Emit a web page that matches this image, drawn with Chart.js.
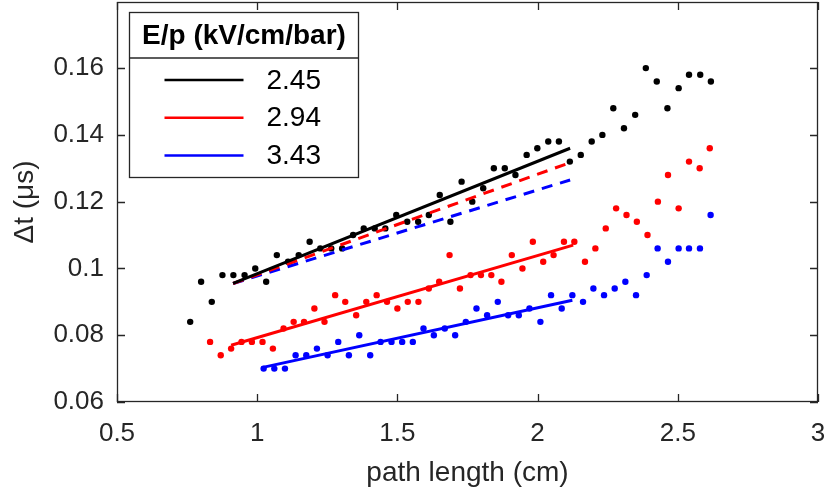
<!DOCTYPE html>
<html>
<head>
<meta charset="utf-8">
<title>Drift time vs path length</title>
<script src="https://cdn.jsdelivr.net/npm/chart.js@4.4.1/dist/chart.umd.min.js"></script>
<style>
    html, body { margin: 0; padding: 0; background: #ffffff; }
    #wrap { width: 827px; height: 495px; }
</style>
</head>
<body>
<div id="wrap"><canvas id="graficoDeriva" width="827" height="495"></canvas></div>
<script>

// E/p = 2.45 kV/cm/bar
const xNegro = [0.761, 0.800, 0.838, 0.876, 0.915, 0.955, 0.993, 1.032, 1.070, 1.110,
    1.148, 1.187, 1.225, 1.264, 1.303, 1.342, 1.380, 1.419, 1.457, 1.496,
    1.535, 1.574, 1.612, 1.651, 1.689, 1.729, 1.767, 1.806, 1.844, 1.883,
    1.921, 1.961, 1.999, 2.038, 2.076, 2.115, 2.154, 2.193, 2.231, 2.270,
    2.308, 2.348, 2.386, 2.425, 2.463, 2.503, 2.540, 2.580, 2.618];
const tNegro = [0.084, 0.096, 0.090, 0.098, 0.098, 0.098, 0.100, 0.096, 0.104, 0.102,
    0.104, 0.108, 0.106, 0.106, 0.106, 0.110, 0.112, 0.112, 0.112, 0.116,
    0.114, 0.114, 0.116, 0.122, 0.114, 0.126, 0.120, 0.124, 0.130, 0.130,
    0.128, 0.134, 0.136, 0.138, 0.138, 0.132, 0.134, 0.138, 0.140, 0.148,
    0.142, 0.146, 0.160, 0.156, 0.148, 0.154, 0.158, 0.158, 0.156];

// E/p = 2.94 kV/cm/bar
const xRojo = [0.832, 0.870, 0.907, 0.944, 0.981, 1.019, 1.056, 1.094, 1.130, 1.167,
    1.204, 1.240, 1.278, 1.314, 1.353, 1.389, 1.426, 1.463, 1.500, 1.537,
    1.575, 1.612, 1.649, 1.686, 1.723, 1.761, 1.798, 1.835, 1.871, 1.908,
    1.946, 1.983, 2.020, 2.057, 2.094, 2.131, 2.169, 2.206, 2.243, 2.280,
    2.317, 2.354, 2.392, 2.429, 2.465, 2.503, 2.540, 2.578, 2.614];
const tRojo = [0.078, 0.074, 0.076, 0.078, 0.078, 0.078, 0.076, 0.082, 0.084, 0.084,
    0.088, 0.084, 0.092, 0.090, 0.086, 0.090, 0.092, 0.090, 0.088, 0.090,
    0.090, 0.094, 0.096, 0.104, 0.094, 0.098, 0.098, 0.098, 0.096, 0.104,
    0.100, 0.108, 0.102, 0.104, 0.108, 0.108, 0.102, 0.106, 0.112, 0.118,
    0.116, 0.114, 0.110, 0.120, 0.128, 0.118, 0.132, 0.130, 0.136];

// E/p = 3.43 kV/cm/bar
const xAzul = [1.023, 1.061, 1.099, 1.137, 1.175, 1.213, 1.251, 1.289, 1.327, 1.364,
    1.403, 1.440, 1.479, 1.517, 1.555, 1.593, 1.630, 1.669, 1.706, 1.744,
    1.782, 1.820, 1.858, 1.895, 1.933, 1.971, 2.010, 2.048, 2.086, 2.124,
    2.162, 2.199, 2.237, 2.275, 2.313, 2.351, 2.389, 2.428, 2.465, 2.503,
    2.540, 2.579, 2.617];
const tAzul = [0.070, 0.070, 0.070, 0.074, 0.074, 0.076, 0.074, 0.078, 0.074, 0.080,
    0.074, 0.078, 0.078, 0.078, 0.078, 0.082, 0.080, 0.082, 0.080, 0.084,
    0.088, 0.086, 0.090, 0.086, 0.086, 0.088, 0.084, 0.092, 0.088, 0.092,
    0.090, 0.094, 0.092, 0.094, 0.096, 0.092, 0.098, 0.106, 0.102, 0.106,
    0.106, 0.106, 0.116];

// rectas de ajuste: [x inicio, x fin] y [t inicio, t fin]
const ajusteNegroX = [0.914, 2.116];
const ajusteNegroT = [0.0955, 0.1360];
const ajusteRojoX = [0.907, 2.127];
const ajusteRojoT = [0.0770, 0.1070];
const ajusteAzulX = [1.016, 2.124];
const ajusteAzulT = [0.0703, 0.0905];
// lo que daria la recta negra escalada a los otros campos
const escaladoRojoX = [0.914, 2.116];
const escaladoRojoT = [0.0955, 0.1317];
const escaladoAzulX = [0.914, 2.116];
const escaladoAzulT = [0.0955, 0.1265];

const campos = ["2.45", "2.94", "3.43"];
const tituloLeyenda = "E/p (kV/cm/bar)";

const xTicks = [0.5, 1, 1.5, 2, 2.5, 3];
const yTicks = [0.06, 0.08, 0.1, 0.12, 0.14, 0.16];

const COLOR_EJE = "#262626";
const FUENTE = "'Liberation Sans', Arial, Helvetica, sans-serif";

function puntos(xs, ts){
    return xs.map(function(x, i){ return { x: x, y: ts[i] }; });
}

function nube(xs, ts, color){
    return {
        data: puntos(xs, ts),
        showLine: false,
        pointRadius: 3.2,
        pointHoverRadius: 3.2,
        pointBorderWidth: 0,
        backgroundColor: color,
        borderColor: color,
        order: 2
    };
}

function recta(xs, ts, color, guiones){
    return {
        data: puntos(xs, ts),
        showLine: true,
        pointRadius: 0,
        borderWidth: 3,
        borderColor: color,
        backgroundColor: color,
        borderDash: guiones ? [11, 8] : [],
        fill: false,
        order: 1
    };
}

// caja de ejes con marcas hacia dentro, estilo matlab
const marcoEjes = {
    id: "marcoEjes",
    afterDatasetsDraw: function(chart){
        const ctx = chart.ctx;
        const a = chart.chartArea;
        const sx = chart.scales.x;
        const sy = chart.scales.y;
        const largo = 8;
        ctx.save();
        ctx.strokeStyle = COLOR_EJE;
        ctx.lineWidth = 1.3;
        ctx.strokeRect(a.left + 0.5, a.top + 0.5, a.right - a.left - 1, a.bottom - a.top - 1);
        ctx.beginPath();
        xTicks.forEach(function(v){
            const px = Math.round(sx.getPixelForValue(v)) + 0.5;
            ctx.moveTo(px, a.bottom); ctx.lineTo(px, a.bottom - largo);
            ctx.moveTo(px, a.top); ctx.lineTo(px, a.top + largo);
        });
        yTicks.forEach(function(v){
            const py = Math.round(sy.getPixelForValue(v)) + 0.5;
            ctx.moveTo(a.left, py); ctx.lineTo(a.left + largo, py);
            ctx.moveTo(a.right, py); ctx.lineTo(a.right - largo, py);
        });
        ctx.stroke();
        ctx.restore();
    }
};

// leyenda con titulo y separador
const leyendaCaja = {
    id: "leyendaCaja",
    afterDraw: function(chart){
        const ctx = chart.ctx;
        const a = chart.chartArea;
        const x0 = a.left + 12.5, y0 = a.top + 10.5;
        const ancho = 229, alto = 165, sep = 45.5;
        const colores = ["#000000", "#ff0000", "#0000ff"];
        ctx.save();
        ctx.fillStyle = "#ffffff";
        ctx.fillRect(x0, y0, ancho, alto);
        ctx.strokeStyle = COLOR_EJE;
        ctx.lineWidth = 1.3;
        ctx.strokeRect(x0, y0, ancho, alto);
        ctx.beginPath();
        ctx.moveTo(x0, y0 + sep); ctx.lineTo(x0 + ancho, y0 + sep);
        ctx.stroke();

        ctx.fillStyle = "#000000";
        ctx.textAlign = "center";
        ctx.textBaseline = "middle";
        ctx.font = "bold 28px " + FUENTE;
        ctx.fillText(tituloLeyenda, x0 + ancho / 2, y0 + 24);

        ctx.font = "28px " + FUENTE;
        ctx.textAlign = "left";
        campos.forEach(function(c, i){
            const yy = y0 + 67.5 + i * 37.7;
            ctx.strokeStyle = colores[i];
            ctx.lineWidth = 2.5;
            ctx.beginPath();
            ctx.moveTo(x0 + 35, yy); ctx.lineTo(x0 + 114, yy);
            ctx.stroke();
            ctx.fillText(c, x0 + 137, yy + 1);
        });
        ctx.restore();
    }
};

function graficoDeriva(){
    const ctx = document.getElementById("graficoDeriva");

    const datasets = [
        nube(xNegro, tNegro, "#000000"),
        nube(xRojo, tRojo, "#ff0000"),
        nube(xAzul, tAzul, "#0000ff"),
        recta(ajusteNegroX, ajusteNegroT, "#000000", false),
        recta(ajusteRojoX, ajusteRojoT, "#ff0000", false),
        recta(ajusteAzulX, ajusteAzulT, "#0000ff", false),
        recta(escaladoRojoX, escaladoRojoT, "#ff0000", true),
        recta(escaladoAzulX, escaladoAzulT, "#0000ff", true)
    ];

    const options = {
        responsive: false,
        animation: false,
        events: [],
        layout: {
            autoPadding: false,
            padding: { left: 0, right: 9, top: 2, bottom: 0 }
        },
        plugins: {
            legend: { display: false },
            tooltip: { enabled: false }
        },
        scales: {
            x: {
                type: "linear",
                min: 0.5,
                max: 3,
                grid: { display: false, drawTicks: false },
                border: { display: false },
                afterBuildTicks: function(scale){
                    scale.ticks = xTicks.map(function(v){ return { value: v }; });
                },
                afterFit: function(scale){
                    scale.height = 93;
                    scale.paddingLeft = 0;
                    scale.paddingRight = 0;
                },
                ticks: {
                    padding: 16,
                    color: COLOR_EJE,
                    font: { family: FUENTE, size: 26 },
                    maxRotation: 0,
                    callback: function(v){ return String(v); }
                },
                title: {
                    display: true,
                    text: "path length (cm)",
                    color: COLOR_EJE,
                    font: { family: FUENTE, size: 28 },
                    padding: { top: 0, bottom: 5 }
                }
            },
            y: {
                type: "linear",
                min: 0.06,
                max: 0.1798,
                grid: { display: false, drawTicks: false },
                border: { display: false },
                afterBuildTicks: function(scale){
                    scale.ticks = yTicks.map(function(v){ return { value: v }; });
                },
                afterFit: function(scale){
                    scale.width = 117;
                    scale.paddingTop = 0;
                    scale.paddingBottom = 0;
                },
                ticks: {
                    padding: 13,
                    color: COLOR_EJE,
                    font: { family: FUENTE, size: 26 },
                    callback: function(v){ return String(Number(v.toFixed(3))); }
                },
                title: {
                    display: true,
                    text: "Δt (μs)",
                    color: COLOR_EJE,
                    font: { family: FUENTE, size: 28 },
                    padding: { top: 8, bottom: 0 }
                }
            }
        }
    };

    new Chart(ctx, {
        type: "scatter",
        data: { datasets: datasets },
        options: options,
        plugins: [marcoEjes, leyendaCaja]
    });
}

graficoDeriva();
</script>
</body>
</html>
